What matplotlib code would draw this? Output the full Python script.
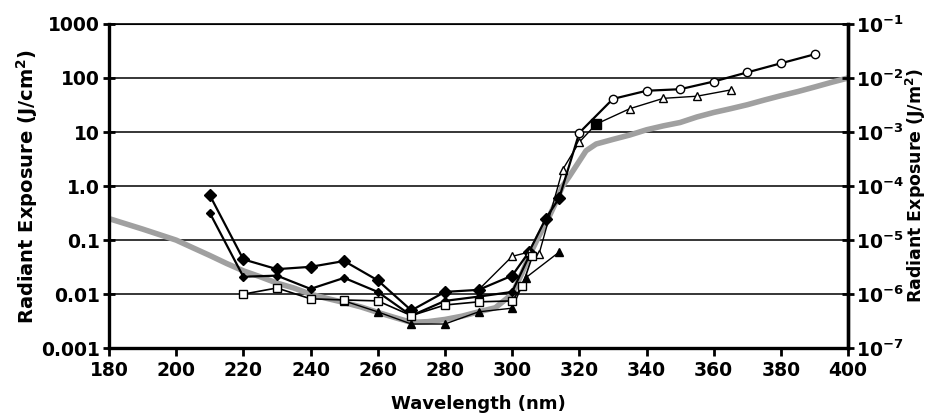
#!/usr/bin/env python3
"""Radiant exposure thresholds vs wavelength, with a guideline curve."""

import matplotlib
matplotlib.use("Agg")
import matplotlib.pyplot as plt

# guideline curve (gray)
guide_wl = [180, 190, 200, 205, 210, 215, 220, 225, 230, 235, 240, 245, 250,
            255, 260, 265, 270, 275, 280, 285, 290, 295, 300, 303, 305, 308,
            310, 313, 315, 317, 320, 322, 325, 330, 335, 340, 345, 350, 355,
            360, 365, 370, 375, 380, 385, 390, 395, 400]
guide_val = [0.25, 0.16, 0.10, 0.072, 0.052, 0.037, 0.027, 0.021, 0.016,
             0.013, 0.010, 0.0083, 0.007, 0.0058, 0.0046, 0.0037, 0.003,
             0.0031, 0.0034, 0.0039, 0.0047, 0.0056, 0.010, 0.025, 0.05, 0.12,
             0.2, 0.5, 1.0, 1.5, 2.9, 4.5, 6.0, 7.3, 8.8, 11, 13, 15, 19, 23,
             27, 32, 39, 47, 56, 68, 83, 100]

# large filled diamonds
dia_a_wl = [210, 220, 230, 240, 250, 260, 270, 280, 290, 300, 305, 310, 314]
dia_a_val = [0.68, 0.044, 0.029, 0.032, 0.041, 0.018, 0.005, 0.011, 0.012,
             0.022, 0.06, 0.25, 0.6]

# small filled diamonds
dia_b_wl = [210, 220, 230, 240, 250, 260, 270, 280, 290, 300, 305]
dia_b_val = [0.32, 0.021, 0.022, 0.0125, 0.02, 0.011, 0.004, 0.0075, 0.009,
             0.011, 0.05]

# open squares
sq_wl = [220, 230, 240, 250, 260, 270, 280, 290, 300, 303, 306]
sq_val = [0.010, 0.013, 0.0082, 0.0078, 0.0075, 0.004, 0.0063, 0.0072,
          0.0075, 0.014, 0.05]

# filled triangles
tri_f_wl = [250, 260, 270, 280, 290, 300, 304, 314]
tri_f_val = [0.0075, 0.0047, 0.0028, 0.0028, 0.0047, 0.0055, 0.02, 0.06]

# open triangles
tri_o_wl = [290, 300, 305, 308, 315, 320, 325, 335, 345, 355, 365]
tri_o_val = [0.012, 0.05, 0.06, 0.055, 2.0, 6.5, 14, 27, 42, 46, 60]

# open circles (line continues from diamonds at 314 nm)
circ_wl = [314, 320, 330, 340, 350, 360, 370, 380, 390]
circ_val = [0.6, 9.7, 41, 58, 62, 86, 127, 187, 274]

# single filled square
fsq_wl = [325]
fsq_val = [14]

left_ticks = [0.001, 0.01, 0.1, 1, 10, 100, 1000]
left_labels = ["0.001", "0.01", "0.1", "1.0", "10", "100", "1000"]
right_ticks = [1e-7, 1e-6, 1e-5, 1e-4, 1e-3, 1e-2, 1e-1]
right_labels = [r"$\mathbf{10^{%d}}$" % e for e in range(-7, 0)]
x_ticks = list(range(180, 401, 20))

plt.rcParams["font.family"] = ["DejaVu Sans"]
plt.rcParams["mathtext.fontset"] = "dejavusans"

fig = plt.figure(figsize=(9.31, 4.20), dpi=100)
ax = fig.add_axes([0.117, 0.171, 0.794, 0.772])

ax.set_yscale("log")
ax.set_xlim(180, 400)
ax.set_ylim(0.001, 1000)

for v in [0.01, 0.1, 1, 10, 100]:
    ax.axhline(v, color="black", lw=1.1, zorder=1)

ax.plot(guide_wl, guide_val, color="#a0a0a0", lw=4, zorder=2,
        solid_capstyle="butt")

ms = 6
ax.plot(dia_a_wl, dia_a_val, color="black", lw=1.6, marker="D", ms=ms,
        mfc="black", mec="black", zorder=4)
ax.plot(dia_b_wl, dia_b_val, color="black", lw=1.6, marker="D", ms=4.5,
        mfc="black", mec="black", zorder=4)
ax.plot(sq_wl, sq_val, color="black", lw=1.2, marker="s", ms=ms,
        mfc="white", mec="black", mew=1, zorder=5)
ax.plot(tri_f_wl, tri_f_val, color="black", lw=1.0, marker="^", ms=ms,
        mfc="black", mec="black", zorder=4)
ax.plot(tri_o_wl, tri_o_val, color="black", lw=1.0, marker="^", ms=ms,
        mfc="white", mec="black", mew=1, zorder=4, markevery=list(range(1, 11)))
ax.plot(circ_wl, circ_val, color="black", lw=1.6, marker="o", ms=ms,
        mfc="white", mec="black", mew=1, zorder=4,
        markevery=list(range(1, len(circ_wl))))
ax.plot(fsq_wl, fsq_val, ls="none", marker="s", ms=7, mfc="black",
        mec="black", zorder=6)

ax.set_xticks(x_ticks)
ax.set_xticklabels([str(t) for t in x_ticks])
ax.set_yticks(left_ticks)
ax.set_yticklabels(left_labels)
ax.minorticks_off()
ax.tick_params(axis="x", direction="out", length=6, width=2,
               labelsize=13.5, pad=3)
ax.tick_params(axis="y", direction="inout", length=9, width=2,
               labelsize=13.5, pad=2)
for lab in ax.get_xticklabels() + ax.get_yticklabels():
    lab.set_fontweight("bold")

for side in ["left", "bottom", "right"]:
    ax.spines[side].set_linewidth(2.4)
ax.spines["top"].set_linewidth(1.2)

ax.set_xlabel("Wavelength (nm)", fontsize=13, fontweight="bold", labelpad=11)
ax.set_ylabel(r"Radiant Exposure (J/cm$^\mathbf{2}$)", fontsize=14,
              fontweight="bold", labelpad=1)

ax2 = ax.twinx()
ax2.set_yscale("log")
ax2.set_ylim(1e-7, 1e-1)
ax2.set_yticks(right_ticks)
ax2.set_yticklabels(right_labels)
ax2.minorticks_off()
ax2.tick_params(axis="y", direction="inout", length=9, width=2,
                labelsize=13.5, pad=1)
ax2.spines["right"].set_linewidth(2.4)
ax2.set_ylabel(r"Radiant Exposure (J/m$^\mathbf{2}$)", fontsize=12.5,
               fontweight="bold", labelpad=0)

fig.savefig("out.png", dpi=100)
